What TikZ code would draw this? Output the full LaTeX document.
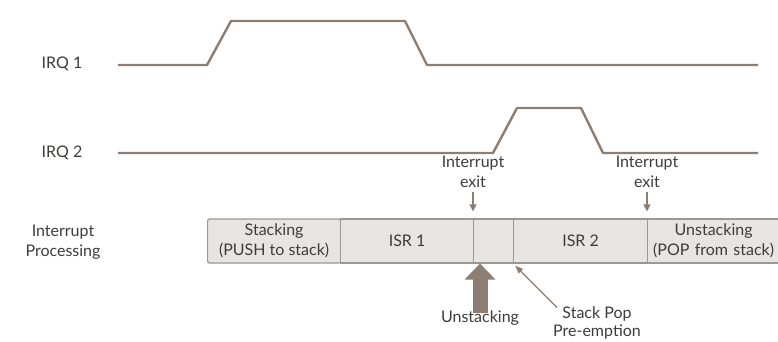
\documentclass[tikz,border=0pt]{standalone}
\usepackage{fontspec}
\setmainfont{Lato}
\usetikzlibrary{arrows.meta}
\definecolor{wave}{RGB}{140,126,114}
\definecolor{boxfill}{RGB}{232,228,225}
\definecolor{boxline}{RGB}{158,150,144}
\definecolor{ink}{RGB}{62,60,58}
\tikzset{
  lbl/.style={text=ink, font=\fontsize{16}{19.5}\selectfont, inner sep=0pt, align=center},
  signal/.style={draw=wave, line width=2.4pt, line join=round},
  seg/.style={draw=boxline, fill=boxfill, line width=1.2pt, minimum height=44pt,
              inner sep=0pt, anchor=west, text=ink, font=\fontsize{16}{19.5}\selectfont, align=center},
  exitarrow/.style={draw=wave, line width=1.2pt, -{Triangle[length=7pt,width=7pt]}},
  thinarrow/.style={draw=wave, line width=1.2pt, -{Triangle[length=8pt,width=6pt]}},
  fatarrow/.style={draw=wave, line width=15pt, -{Triangle[length=16pt,width=30pt]}}
}
\begin{document}
\begin{tikzpicture}[x=1pt,y=-1pt]
\useasboundingbox (0,0) rectangle (778,342);
\clip (0,0) rectangle (778,342);

% signal names
\node[lbl] (irq1) at (62,64) {IRQ 1};
\node[lbl] (irq2) at (62,153) {IRQ 2};
\node[lbl] (proc) at (63,242) {Interrupt\\Processing};

% request waveforms
\draw[signal] (118,65) -- (207,65) -- (231,21) -- (405,21) -- (427,65) -- (758,65);
\draw[signal] (118,153) -- (493,153) -- (517,108) -- (581,108) -- (603,153) -- (758,153);

% processing timeline
\node[seg, minimum width=133pt, rounded corners=2pt] (stk) at (207,241) {Stacking\\(PUSH to stack)};
\node[seg, minimum width=133pt] (isr1) at (340,241) {ISR 1};
\node[seg, minimum width=40pt] (pre) at (473,241) {};
\node[seg, minimum width=134pt] (isr2) at (513,241) {ISR 2};
\node[seg, minimum width=140pt, text width=132pt] (unstk) at (647,241) {\hspace*{-8pt}Unstacking\\\hspace*{-8pt}(POP from stack)};

% exit markers
\node[lbl] (exit1) at (473,172) {Interrupt\\exit};
\node[lbl] (exit2) at (647,172) {Interrupt\\exit};
\draw[exitarrow] (exit1.south) ++(0,4) -- ([yshift=7pt]pre.north west);
\draw[exitarrow] (exit2.south) ++(0,4) -- ([yshift=7pt]unstk.north west);

% annotations below
\node[lbl] (ulab) at (480,318) {Unstacking};
\node[lbl, font=\fontsize{16}{18}\selectfont] (spop) at (597,323) {Stack Pop\\Pre-emption};
\draw[fatarrow] ([yshift=-3pt]ulab.north) -- (ulab.north |- pre.south);
\draw[thinarrow] ([xshift=4pt,yshift=-1pt]spop.north west) -- ([shift={(1pt,-2pt)}]pre.south east);
\end{tikzpicture}
\end{document}
